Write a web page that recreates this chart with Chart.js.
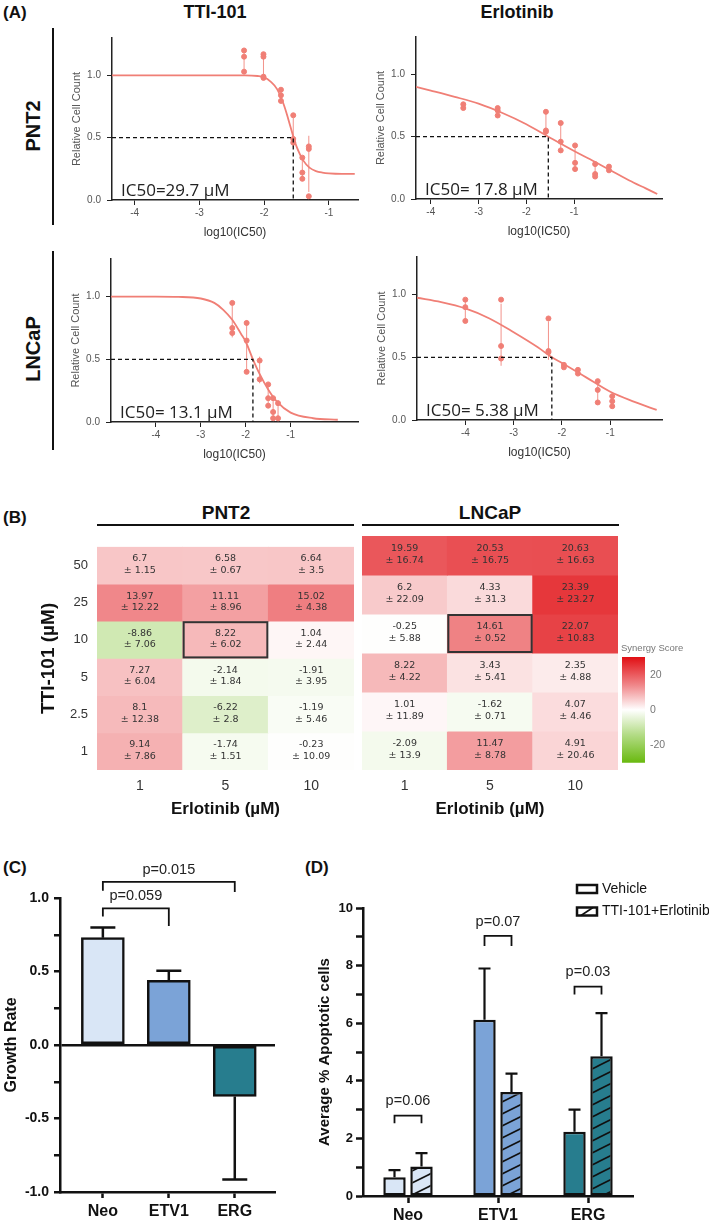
<!DOCTYPE html>
<html>
<head>
<meta charset="utf-8">
<script src="https://cdn.jsdelivr.net/npm/chart.js@4.4.1/dist/chart.umd.min.js"></script>
<style>
  body { margin: 0; width: 709px; height: 1222px; position: relative; background: #fff; overflow: hidden;
         font-family: "Liberation Sans", Arial, sans-serif; color: #111; }
  canvas { position: absolute; }
  .t { position: absolute; transform: translate(-50%, -50%); font-weight: bold; white-space: nowrap; }
  .v { transform: translate(-50%, -50%) rotate(-90deg); }
  .tag { position: absolute; font-weight: bold; font-size: 17px; transform: translateY(-50%); }
  .rule { position: absolute; background: #111; }
</style>
</head>
<body>
<div class="tag" style="left:3px;top:13px">(A)</div>
<div class="t" style="left:215px;top:12px;font-size:18px">TTI-101</div>
<div class="t" style="left:517px;top:12px;font-size:18px">Erlotinib</div>
<div class="t v" style="left:33px;top:126px;font-size:20px">PNT2</div>
<div class="rule" style="left:52px;top:28px;width:1.5px;height:197px"></div>
<div class="t v" style="left:33px;top:349px;font-size:20px">LNCaP</div>
<div class="rule" style="left:52px;top:251px;width:1.5px;height:199px"></div>

<canvas id="aPnt2Tti" width="304" height="214" style="left:60px;top:26px"></canvas>
<canvas id="aPnt2Erl" width="304" height="214" style="left:364px;top:25px"></canvas>
<canvas id="aLncapTti" width="305" height="215" style="left:59px;top:247px"></canvas>
<canvas id="aLncapErl" width="303" height="215" style="left:365px;top:245px"></canvas>

<div class="tag" style="left:3px;top:518px">(B)</div>
<div class="t" style="left:226px;top:513px;font-size:19px">PNT2</div>
<div class="rule" style="left:97px;top:524px;width:257px;height:1.5px"></div>
<div class="t" style="left:490px;top:513px;font-size:19px">LNCaP</div>
<div class="rule" style="left:362px;top:524px;width:257px;height:1.5px"></div>

<canvas id="bPnt2" width="332" height="290" style="left:28px;top:530px"></canvas>
<canvas id="bLncap" width="268" height="290" style="left:356px;top:530px"></canvas>
<canvas id="bScale" width="90" height="138" style="left:616px;top:636px"></canvas>

<div class="tag" style="left:3px;top:868px">(C)</div>
<div class="tag" style="left:305px;top:868px">(D)</div>
<canvas id="cGrowth" width="300" height="372" style="left:0px;top:850px"></canvas>
<canvas id="dApoptosis" width="399" height="372" style="left:310px;top:850px"></canvas>

<script>
Chart.defaults.font.family = '"Liberation Sans", Arial, sans-serif';
Chart.defaults.color = '#222';
Chart.defaults.animation = false;

// ---------- (A) dose response ----------
const doseTicks = [-4, -3, -2, -1];
const cellTicks = [0, 0.5, 1];

const pnt2TtiDose = [-2.31, -2.01, -1.74, -1.55, -1.41, -1.31];
const pnt2TtiReps = [[1.20, 1.15, 1.03], [1.17, 1.15, 0.99, 0.98], [0.885, 0.84, 0.795], [0.68, 0.49, 0.46], [0.34, 0.22, 0.17], [0.43, 0.41, 0.03]];
const pnt2TtiFitX = [-4.35, -2.3, -2.1, -2.0, -1.9, -1.8, -1.7, -1.65, -1.6, -1.55, -1.5, -1.45, -1.4, -1.3, -1.2, -1.1, -1.0, -0.8, -0.6];
const pnt2TtiFitY = [1.0, 1.0, 0.995, 0.985, 0.95, 0.89, 0.77, 0.69, 0.60, 0.51, 0.43, 0.37, 0.32, 0.26, 0.232, 0.22, 0.214, 0.21, 0.21];

const pnt2ErlDose = [-3.32, -2.60, -1.59, -1.28, -0.98, -0.56, -0.27];
const pnt2ErlReps = [[0.76, 0.73], [0.73, 0.71, 0.67], [0.70, 0.55, 0.54], [0.61, 0.46, 0.39], [0.43, 0.29, 0.24], [0.28, 0.20, 0.18], [0.26, 0.23]];
const pnt2ErlFitX = [-4.31, -4.0, -3.5, -3.0, -2.5, -2.0, -1.54, -1.0, -0.5, 0.0, 0.25, 0.5, 0.74];
const pnt2ErlFitY = [0.90, 0.87, 0.82, 0.765, 0.69, 0.60, 0.50, 0.385, 0.285, 0.18, 0.13, 0.085, 0.04];

const lncapTtiDose = [-2.30, -1.98, -1.69, -1.50, -1.39, -1.28];
const lncapTtiReps = [[0.95, 0.75, 0.71], [0.79, 0.65, 0.40], [0.49, 0.34], [0.30, 0.19, 0.13], [0.19, 0.08, 0.03], [0.15, 0.03]];
const lncapTtiFitX = [-5.0, -4.0, -3.5, -3.0, -2.7, -2.5, -2.3, -2.1, -2.0, -1.84, -1.7, -1.5, -1.3, -1.0, -0.5, 0.05];
const lncapTtiFitY = [1.0, 1.0, 0.998, 0.985, 0.95, 0.895, 0.815, 0.70, 0.64, 0.50, 0.39, 0.26, 0.16, 0.075, 0.03, 0.018];

const lncapErlDose = [-4.0, -3.26, -2.28, -1.96, -1.67, -1.26, -0.96];
const lncapErlReps = [[0.96, 0.90, 0.79], [0.96, 0.59, 0.49], [0.81, 0.55, 0.54], [0.44, 0.42], [0.40, 0.37], [0.31, 0.24, 0.14], [0.19, 0.15, 0.11]];
const lncapErlFitX = [-5.0, -4.5, -4.0, -3.5, -3.0, -2.5, -2.21, -2.0, -1.5, -1.0, -0.5, -0.04];
const lncapErlFitY = [0.975, 0.94, 0.89, 0.81, 0.70, 0.58, 0.50, 0.455, 0.34, 0.225, 0.145, 0.08];

// ---------- (B) synergy ----------
const ttiLevels = ['50', '25', '10', '5', '2.5', '1'];
const erlLevels = ['1', '5', '10'];
const pnt2Score = [[6.7, 6.58, 6.64], [13.97, 11.11, 15.02], [-8.86, 8.22, 1.04], [7.27, -2.14, -1.91], [8.1, -6.22, -1.19], [9.14, -1.74, -0.23]];
const pnt2Sd = [[1.15, 0.67, 3.5], [12.22, 8.96, 4.38], [7.06, 6.02, 2.44], [6.04, 1.84, 3.95], [12.38, 2.8, 5.46], [7.86, 1.51, 10.09]];
const lncapScore = [[19.59, 20.53, 20.63], [6.2, 4.33, 23.39], [-0.25, 14.61, 22.07], [8.22, 3.43, 2.35], [1.01, -1.62, 4.07], [-2.09, 11.47, 4.91]];
const lncapSd = [[16.74, 16.75, 16.63], [22.09, 31.3, 23.27], [5.88, 0.52, 10.83], [4.22, 5.41, 4.88], [11.89, 0.71, 4.46], [13.9, 8.78, 20.46]];
const focusCell = [2, 1]; // TTI-101 10, Erlotinib 5
const scoreTicks = [-20, 0, 20];
const scoreLimit = 30;

// ---------- (C) growth ----------
const cellLines = ['Neo', 'ETV1', 'ERG'];
const growthRate = [0.73, 0.44, -0.35];
const growthErr = [0.07, 0.065, 0.565];
const growthPairs = [[0, 1], [0, 2]];
const growthPairY = [0.93, 1.11];
const growthPairLeft = [0.875, 1.05];
const growthPairRight = [0.81, 1.04];
const growthPairP = ['p=0.059', 'p=0.015'];

// ---------- (D) apoptosis ----------
const vehicleMean = [0.65, 6.12, 2.23];
const vehicleErr = [0.25, 1.78, 0.77];
const comboMean = [1.02, 3.61, 4.85];
const comboErr = [0.47, 0.64, 1.5];
const apoPairY = [2.79, 9.03, 7.27];
const apoPairEnd = [2.53, 8.68, 7.0];
const apoPairP = ['p=0.06', 'p=0.07', 'p=0.03'];

const coral = '#f07f76';
const lineColors = ['#d9e6f6', '#7ba3d7', '#277d8e'];
const posEnd = [225, 15, 20];
const negEnd = [105, 185, 15];
const colorSpan = 28;

function sdRange(reps) {
  const m = reps.reduce((a, b) => a + b, 0) / reps.length;
  const sd = Math.sqrt(reps.reduce((a, b) => a + (b - m) ** 2, 0) / (reps.length - 1));
  return [m - sd, m + sd];
}

function ic50Plugin(text) {
  return {
    id: 'ic50Text',
    afterDatasetsDraw(chart) {
      const { ctx, chartArea } = chart;
      ctx.save();
      ctx.font = '17px "Open Sans"';
      ctx.fillStyle = '#222';
      ctx.fillText(text, chartArea.left + 9, chartArea.bottom - 4);
      ctx.restore();
    }
  };
}

function doseChart(id, dose, reps, fitX, fitY, ic50, xMin, xMax, text) {
  const points = [];
  const bars = [];
  dose.forEach((x, i) => {
    reps[i].forEach(y => points.push({ x, y }));
    const [lo, hi] = sdRange(reps[i]);
    bars.push({ x, y: lo }, { x, y: hi }, { x, y: null });
  });
  return new Chart(document.getElementById(id), {
    type: 'scatter',
    data: {
      datasets: [
        { type: 'line', data: [{ x: xMin, y: 0.5 }, { x: ic50, y: 0.5 }, { x: ic50, y: 0 }],
          borderColor: '#111', borderWidth: 1.3, borderDash: [4, 3], pointRadius: 0 },
        { type: 'line', data: fitX.map((x, i) => ({ x, y: fitY[i] })),
          borderColor: coral, borderWidth: 1.8, pointRadius: 0, cubicInterpolationMode: 'monotone' },
        { type: 'line', data: bars, borderColor: 'rgba(240,127,118,0.85)', borderWidth: 1,
          pointRadius: 0, spanGaps: false },
        { data: points, backgroundColor: coral, borderColor: coral, pointRadius: 2.5 }
      ]
    },
    options: {
      responsive: false,
      layout: { padding: { top: 6, right: 6 } },
      plugins: { legend: { display: false }, tooltip: { enabled: false } },
      scales: {
        x: {
          type: 'linear', min: xMin, max: xMax,
          afterBuildTicks: s => { s.ticks = doseTicks.map(value => ({ value })); },
          afterFit: s => { s.height = 40; },
          border: { color: '#222', width: 1.5 },
          grid: { drawOnChartArea: false, tickLength: 5, tickColor: '#222' },
          ticks: { color: '#555', font: { size: 10 }, padding: 2, callback: v => String(v) },
          title: { display: true, text: 'log10(IC50)', color: '#333', font: { size: 12 }, padding: 0 }
        },
        y: {
          min: 0, max: 1.3,
          afterBuildTicks: s => { s.ticks = cellTicks.map(value => ({ value })); },
          afterFit: s => { s.width = 52; },
          border: { color: '#222', width: 1.5 },
          grid: { drawOnChartArea: false, tickLength: 5, tickColor: '#222' },
          ticks: { color: '#555', font: { size: 10 }, padding: 6, callback: v => v.toFixed(1) },
          title: { display: true, text: 'Relative Cell Count', color: '#555', font: { size: 11 },
                   padding: { top: 10, bottom: 0 } }
        }
      }
    },
    plugins: [ic50Plugin(text)]
  });
}

doseChart('aPnt2Tti', pnt2TtiDose, pnt2TtiReps, pnt2TtiFitX, pnt2TtiFitY, -1.55, -4.35, -0.55, 'IC50=29.7 µM');
doseChart('aPnt2Erl', pnt2ErlDose, pnt2ErlReps, pnt2ErlFitX, pnt2ErlFitY, -1.54, -4.31, 0.84, 'IC50= 17.8 µM');
doseChart('aLncapTti', lncapTtiDose, lncapTtiReps, lncapTtiFitX, lncapTtiFitY, -1.84, -5.0, 0.5, 'IC50= 13.1 µM');
doseChart('aLncapErl', lncapErlDose, lncapErlReps, lncapErlFitX, lncapErlFitY, -2.21, -5.0, 0.07, 'IC50= 5.38 µM');

// ---------- (B) heatmaps ----------
function scoreColor(v) {
  const end = v >= 0 ? posEnd : negEnd;
  const f = Math.min(Math.abs(v) / colorSpan, 1);
  const c = end.map(e => Math.round(255 + (e - 255) * f));
  return `rgb(${c[0]},${c[1]},${c[2]})`;
}

function cellTextPlugin(score, sd) {
  return {
    id: 'cellText',
    afterDatasetsDraw(chart) {
      const { ctx } = chart;
      ctx.save();
      ctx.font = '9.5px "DejaVu Sans"';
      ctx.fillStyle = '#333';
      ctx.textAlign = 'center';
      ctx.textBaseline = 'middle';
      score.forEach((row, r) => {
        const meta = chart.getDatasetMeta(r);
        row.forEach((v, c) => {
          const p = meta.data[c].getCenterPoint();
          ctx.fillText(String(v), p.x, p.y - 6.5);
          ctx.fillText('± ' + sd[r][c], p.x, p.y + 5);
        });
      });
      const el = chart.getDatasetMeta(focusCell[0]).data[focusCell[1]];
      const { x, y, base, width } = el.getProps(['x', 'y', 'base', 'width']);
      ctx.strokeStyle = '#333';
      ctx.lineWidth = 2;
      ctx.strokeRect(x - width / 2 + 1, Math.min(y, base) + 1, width - 2, Math.abs(base - y) - 2);
      ctx.restore();
    }
  };
}

function heatmap(id, score, sd, showY) {
  const yAxis = {
    type: 'linear', reverse: true, min: 0, max: ttiLevels.length, display: showY,
    afterBuildTicks: s => { s.ticks = ttiLevels.map((_, i) => ({ value: i + 0.5 })); },
    grid: { display: false, drawTicks: false },
    border: { display: false },
    ticks: { color: '#333', font: { size: 13 }, padding: 9, callback: v => ttiLevels[Math.floor(v)] },
    title: { display: true, text: 'TTI-101 (µM)', color: '#111', font: { size: 19, weight: 'bold' },
             padding: { top: 9.6, bottom: 0 } }
  };
  if (showY) yAxis.afterFit = s => { s.width = 69; };
  return new Chart(document.getElementById(id), {
    type: 'bar',
    data: {
      labels: erlLevels,
      datasets: score.map((row, r) => ({
        data: row.map(() => [r, r + 1]),
        backgroundColor: row.map(scoreColor),
        borderWidth: 0,
        grouped: false,
        barPercentage: 1,
        categoryPercentage: 1,
        inflateAmount: 0.4
      }))
    },
    options: {
      responsive: false,
      layout: { padding: { top: 6, right: 6, left: showY ? 0 : 6 } },
      plugins: { legend: { display: false }, tooltip: { enabled: false } },
      scales: {
        x: {
          grid: { display: false, drawTicks: false },
          border: { display: false },
          ticks: { color: '#333', font: { size: 14 }, padding: 8 },
          afterFit: s => { s.height = 50; },
          title: { display: true, text: 'Erlotinib (µM)', color: '#111', font: { size: 17, weight: 'bold' }, padding: 0 }
        },
        y: yAxis
      }
    },
    plugins: [cellTextPlugin(score, sd)]
  });
}

heatmap('bPnt2', pnt2Score, pnt2Sd, true);
heatmap('bLncap', lncapScore, lncapSd, false);

new Chart(document.getElementById('bScale'), {
  type: 'bar',
  data: {
    labels: [''],
    datasets: [{
      data: [[-scoreLimit, scoreLimit]],
      barPercentage: 1,
      categoryPercentage: 1,
      backgroundColor: c => {
        const chart = c.chart;
        if (!chart.chartArea) return null;
        const ys = chart.scales.y;
        const g = chart.ctx.createLinearGradient(0, ys.getPixelForValue(-scoreLimit), 0, ys.getPixelForValue(scoreLimit));
        [-scoreLimit, -colorSpan / 2, 0, colorSpan / 2, scoreLimit].forEach(v => {
          g.addColorStop((v + scoreLimit) / (2 * scoreLimit), scoreColor(v));
        });
        return g;
      }
    }]
  },
  options: {
    responsive: false,
    layout: { padding: { left: 6, top: 21, bottom: 6 } },
    plugins: { legend: { display: false }, tooltip: { enabled: false } },
    scales: {
      x: { display: false },
      y: {
        position: 'right', min: -scoreLimit, max: scoreLimit,
        afterBuildTicks: s => { s.ticks = scoreTicks.map(value => ({ value })); },
        afterFit: s => { s.width = 61; },
        grid: { display: false, drawTicks: false },
        border: { display: false },
        ticks: { color: '#777', font: { size: 10.5 }, padding: 5 }
      }
    }
  },
  plugins: [{
    id: 'scaleTitle',
    afterDraw(chart) {
      const { ctx, chartArea } = chart;
      ctx.save();
      ctx.font = '9.5px "Liberation Sans", Arial';
      ctx.fillStyle = '#777';
      ctx.textBaseline = 'middle';
      ctx.fillText('Synergy Score', chartArea.left - 1, chartArea.top - 9);
      ctx.restore();
    }
  }]
});

// ---------- shared plugins for (C) and (D) ----------
function errorBarPlugin(values, errors, cap, width) {
  return {
    id: 'errorBars',
    afterDatasetsDraw(chart) {
      const { ctx } = chart;
      const ys = chart.scales.y;
      ctx.save();
      ctx.strokeStyle = '#111';
      ctx.lineWidth = width;
      errors.forEach((errs, d) => {
        chart.getDatasetMeta(d).data.forEach((bar, i) => {
          const v = values[d][i];
          const y0 = ys.getPixelForValue(v);
          const y1 = ys.getPixelForValue(v + Math.sign(v) * errs[i]);
          ctx.beginPath();
          ctx.moveTo(bar.x, y0);
          ctx.lineTo(bar.x, y1);
          ctx.moveTo(bar.x - cap / 2, y1);
          ctx.lineTo(bar.x + cap / 2, y1);
          ctx.stroke();
        });
      });
      ctx.restore();
    }
  };
}

function bracketPlugin(xs, tops, lefts, rights, labels, gap) {
  return {
    id: 'brackets',
    afterDraw(chart) {
      const { ctx } = chart;
      const ys = chart.scales.y;
      ctx.save();
      ctx.strokeStyle = '#111';
      ctx.lineWidth = 1.8;
      ctx.fillStyle = '#222';
      ctx.font = '14.5px "Liberation Sans", Arial';
      ctx.textAlign = 'center';
      ctx.textBaseline = 'bottom';
      tops.forEach((t, k) => {
        const [x0, x1] = xs(chart, k);
        const top = ys.getPixelForValue(t);
        ctx.beginPath();
        ctx.moveTo(x0, ys.getPixelForValue(lefts[k]));
        ctx.lineTo(x0, top);
        ctx.lineTo(x1, top);
        ctx.lineTo(x1, ys.getPixelForValue(rights[k]));
        ctx.stroke();
        ctx.fillText(labels[k], (x0 + x1) / 2, top - gap);
      });
      ctx.restore();
    }
  };
}

const axisBorder = { color: '#111', width: 2.5 };

// ---------- (C) ----------
new Chart(document.getElementById('cGrowth'), {
  type: 'bar',
  data: {
    datasets: [{
      data: growthRate.map((y, x) => ({ x, y })),
      backgroundColor: lineColors,
      borderColor: '#111',
      borderWidth: 2.5,
      borderSkipped: false,
      barThickness: 43
    }]
  },
  options: {
    responsive: false,
    layout: { padding: { top: 48, right: 25 } },
    plugins: { legend: { display: false }, tooltip: { enabled: false } },
    scales: {
      x: {
        type: 'linear', min: -0.65, max: 2.61, offset: false,
        afterBuildTicks: s => { s.ticks = cellLines.map((_, i) => ({ value: i })); },
        afterFit: s => { s.height = 30; },
        border: axisBorder,
        grid: { offset: false, drawOnChartArea: false, tickLength: 6, tickWidth: 2.5, tickColor: '#111' },
        ticks: { color: '#111', font: { size: 16, weight: 'bold' }, padding: 4, callback: v => cellLines[v] }
      },
      y: {
        min: -1, max: 1,
        afterFit: s => { s.width = 60; },
        border: axisBorder,
        grid: {
          color: c => (c.tick && c.tick.value === 0 ? '#111' : 'rgba(0,0,0,0)'),
          lineWidth: 2.5, tickLength: 6, tickWidth: 2.5, tickColor: '#111'
        },
        ticks: {
          stepSize: 0.25, color: '#111', font: { size: 14, weight: 'bold' }, padding: 5,
          callback: v => (Math.round(v * 4) % 2 === 0 ? v.toFixed(1) : '')
        },
        title: { display: true, text: 'Growth Rate', color: '#111', font: { size: 16, weight: 'bold' },
                 padding: { top: 2, bottom: 0 } }
      }
    }
  },
  plugins: [
    errorBarPlugin([growthRate], [growthErr], 25, 2.5),
    bracketPlugin((chart, k) => growthPairs[k].map(i => chart.scales.x.getPixelForValue(i)),
                  growthPairY, growthPairLeft, growthPairRight, growthPairP, 5)
  ]
});

// ---------- (D) ----------
function hatch(color) {
  const c = document.createElement('canvas');
  c.width = 24;
  c.height = 12;
  const g = c.getContext('2d');
  g.fillStyle = color;
  g.fillRect(0, 0, 24, 12);
  g.strokeStyle = '#111';
  g.lineWidth = 1.6;
  [0, 24, 48].forEach(k => {
    g.beginPath();
    g.moveTo(-6, (k + 6) / 2);
    g.lineTo(30, (k - 30) / 2);
    g.stroke();
  });
  return g.createPattern(c, 'repeat');
}

new Chart(document.getElementById('dApoptosis'), {
  type: 'bar',
  data: {
    labels: cellLines,
    datasets: [
      { label: 'Vehicle', data: vehicleMean, backgroundColor: lineColors,
        borderColor: '#111', borderWidth: 2.5, borderSkipped: false },
      { label: 'TTI-101+Erlotinib', data: comboMean, backgroundColor: lineColors.map(hatch),
        borderColor: '#111', borderWidth: 2.5, borderSkipped: false }
    ]
  },
  options: {
    responsive: false,
    datasets: { bar: { categoryPercentage: 0.6, barPercentage: 0.83 } },
    layout: { padding: { top: 58, right: 76 } },
    plugins: { legend: { display: false }, tooltip: { enabled: false } },
    scales: {
      x: {
        afterFit: s => { s.height = 26; },
        border: axisBorder,
        grid: { offset: false, drawOnChartArea: false, tickLength: 7, tickWidth: 2.5, tickColor: '#111' },
        ticks: { color: '#111', font: { size: 16, weight: 'bold' }, padding: 3 }
      },
      y: {
        min: 0, max: 10,
        afterFit: s => { s.width = 53; },
        border: axisBorder,
        grid: { drawOnChartArea: false, tickLength: 7, tickWidth: 2.5, tickColor: '#111' },
        ticks: { stepSize: 1, color: '#111', font: { size: 13, weight: 'bold' }, padding: 3,
                 callback: v => (v % 2 === 0 ? v : '') },
        title: { display: true, text: 'Average % Apoptotic cells', color: '#111',
                 font: { size: 15, weight: 'bold' }, padding: { top: 6, bottom: 0 } }
      }
    }
  },
  plugins: [
    errorBarPlugin([vehicleMean, comboMean], [vehicleErr, comboErr], 12, 2.2),
    bracketPlugin((chart, k) => [chart.getDatasetMeta(0).data[k].x, chart.getDatasetMeta(1).data[k].x],
                  apoPairY, apoPairEnd, apoPairEnd, apoPairP, 7),
    {
      id: 'boxLegend',
      afterDraw(chart) {
        const { ctx, chartArea } = chart;
        const x = chartArea.right - 56;
        ctx.save();
        ctx.font = '14px "Liberation Sans", Arial';
        ctx.textBaseline = 'middle';
        chart.data.datasets.forEach((ds, i) => {
          const y = chartArea.top - 19 + i * 22.5;
          ctx.fillStyle = '#fff';
          ctx.fillRect(x, y - 4, 20, 8);
          ctx.strokeStyle = '#111';
          ctx.lineWidth = 2.5;
          ctx.strokeRect(x, y - 4, 20, 8);
          if (i === 1) {
            ctx.lineWidth = 1.6;
            ctx.beginPath();
            ctx.moveTo(x + 4, y + 4);
            ctx.lineTo(x + 16, y - 4);
            ctx.stroke();
          }
          ctx.fillStyle = '#111';
          ctx.fillText(ds.label, x + 25, y);
        });
        ctx.restore();
      }
    }
  ]
});
</script>
</body>
</html>
